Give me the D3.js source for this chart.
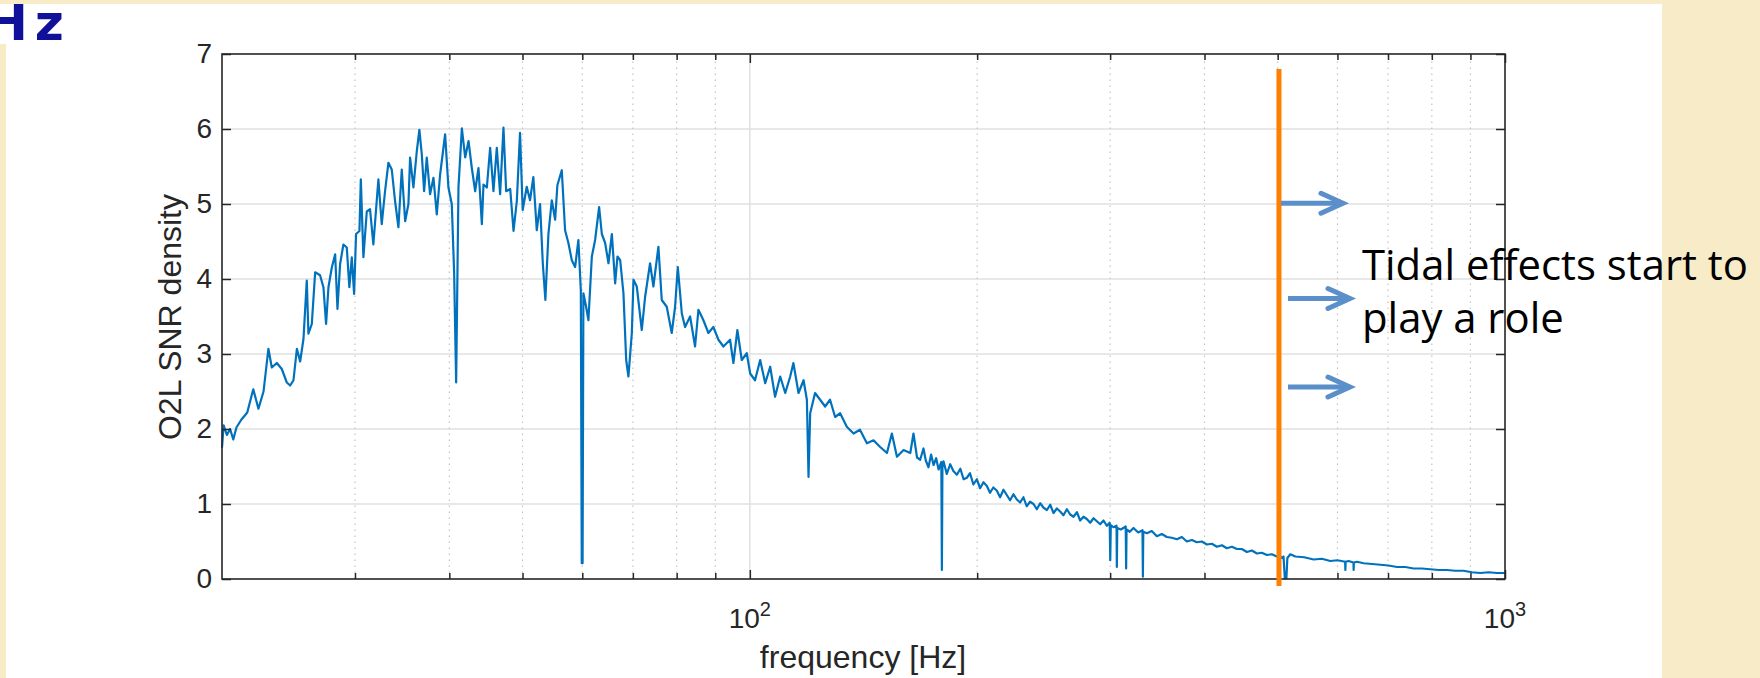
<!DOCTYPE html>
<html>
<head>
<meta charset="utf-8">
<script src="https://d3js.org/d3.v7.min.js"></script>
<style>
  html, body { margin: 0; padding: 0; overflow: hidden; background: #f8ebc8; }
</style>
</head>
<body>
<div id="chart"></div>
<script>
// O2L SNR density vs frequency
var freqHz = [
  20.0, 20.1, 20.3, 20.5, 20.7, 20.9, 21.2, 21.6, 22.0, 22.35,
  22.7, 23.04, 23.28, 23.64, 24.0, 24.37, 24.62, 24.87, 25.13, 25.38,
  25.64, 25.9, 26.03, 26.3, 26.57, 26.97, 27.25, 27.47, 27.67, 27.95,
  28.24, 28.44, 28.67, 28.96, 29.26, 29.49, 29.71, 29.92, 30.1, 30.41,
  30.54, 30.78, 31.1, 31.41, 31.73, 32.22, 32.55, 32.88, 33.22, 33.56,
  33.9, 34.25, 34.6, 34.96, 35.31, 35.49, 35.85, 36.22, 36.51, 36.78,
  37.04, 37.34, 37.72, 38.11, 38.5, 38.89, 39.49, 39.89, 40.3, 40.59,
  40.84, 41.13, 41.56, 41.98, 42.41, 42.84, 43.28, 43.72, 44.17, 44.39,
  44.85, 45.3, 45.76, 46.23, 46.7, 47.18, 47.57, 48.16, 48.65, 49.14,
  49.62,
  50.03, 50.65, 51.16, 51.68, 52.22, 52.75, 53.19, 53.61, 54.11, 54.67,
  55.23, 55.61, 56.36, 56.93, 57.51, 58.11, 58.7, 59.29, 59.73, 59.9,
  60.05, 60.2, 60.7, 61.13, 61.77, 62.39, 63.16, 63.68, 64.33, 64.98,
  65.66, 66.32, 66.79, 67.35, 68.02, 68.59, 69.06, 69.78, 70.13, 70.84,
  71.93, 72.66, 73.77, 74.52, 75.67, 76.45, 77.62, 78.81, 79.62, 80.28,
  81.27, 82.08, 83.35, 84.62, 85.49, 86.8, 88.13, 89.48, 90.87, 92.26,
  94.15, 95.11, 96.27, 97.57, 99.07, 100.1, 101.6, 103.2, 104.8, 106.4,
  108.0, 109.7, 111.4, 113.1, 114.2, 116.0, 117.8, 119.0, 119.6, 120.2,
  122.0, 123.9, 125.8, 127.7, 129.7, 131.7, 134.4, 137.2, 139.9, 142.9,
  145.8, 148.8, 151.9, 154.2, 156.6, 159.8, 163.1, 164.7, 166.5,
  168.1, 169.8, 171.0, 172.4, 173.8, 175.1, 176.5, 177.8, 179.3, 179.6,
  179.9, 180.5, 182.3, 184.2, 186.0, 188.0, 190.0, 191.9, 193.8, 195.7,
  197.7, 199.8, 201.8, 203.9, 206.0, 208.0, 210.1, 212.3, 214.5, 216.7,
  218.9, 221.1, 223.4, 225.7, 228.0, 230.3, 232.6, 235.0, 237.5, 239.9,
  242.4, 244.9, 247.4, 249.9, 252.4, 255.0, 257.6, 260.2, 262.9, 265.6,
  268.3, 271.1, 273.8, 276.6, 279.4, 282.3, 285.2, 288.1, 291.0, 294.0,
  297.0, 299.6, 300.1, 300.6, 303.0, 305.9, 306.2, 306.6, 310.0, 314.6,
  315.0, 315.4, 318.5, 322.1, 326.8, 331.1, 331.5, 331.9, 335.6, 340.6,
  345.9, 351.2, 356.6, 362.0, 367.7, 373.3, 379.0, 384.9, 390.8, 396.8,
  402.9, 409.1, 415.4, 421.8, 428.2, 434.8, 441.6, 448.3, 455.2, 462.2,
  469.3, 476.5, 483.8, 491.2, 498.8, 503, 506.6, 509, 511, 513.5,
  515, 519.7, 527.7, 542, 558.1, 572, 587.1, 600, 614.2, 614.6,
  615.2, 620.8, 630.0, 630.3, 630.8, 636.8, 649.8, 667, 683.8, 701,
  719.5, 738, 757, 776, 796.2, 817, 837.8, 859, 881.3, 904,
  927.3, 951, 975.6, 1000
];

var snrDensity = [
  1.75, 2.05, 1.92, 2.0, 1.86, 2.02, 2.12, 2.22, 2.53, 2.27,
  2.5, 3.07, 2.82, 2.88, 2.8, 2.62, 2.58, 2.65, 3.07, 2.9,
  3.2, 3.98, 3.27, 3.4, 4.09, 4.05, 3.89, 3.4, 3.89, 4.15,
  4.33, 3.6, 4.2, 4.46, 4.42, 3.89, 4.29, 3.8, 4.6, 4.64,
  5.33, 4.29, 4.9, 4.93, 4.46, 5.33, 4.73, 5.17, 5.55, 5.46,
  5.04, 4.69, 5.46, 4.77, 5.0, 5.62, 5.22, 5.7, 5.99, 5.66,
  5.17, 5.62, 5.13, 5.35, 4.86, 5.39, 5.93, 5.22, 5.0, 4.09,
  2.62, 5.22, 6.01, 5.62, 5.84, 5.48, 5.17, 5.48, 4.73, 5.26,
  5.22, 5.75, 5.17, 5.75, 5.13, 6.02, 5.17, 5.2, 4.64, 5.04,
  5.95,
  4.92, 5.23, 5.05, 5.36, 4.65, 5.0, 4.21, 3.72, 4.6, 5.05,
  4.79, 5.25, 5.45, 4.65, 4.48, 4.25, 4.16, 4.52, 3.85, 0.21,
  0.21, 3.81, 3.63, 3.45, 4.3, 4.52, 4.96, 4.6, 4.48, 4.21,
  4.6, 3.94, 4.3, 4.25, 3.81, 2.92, 2.7, 3.28, 3.99, 3.9,
  3.32, 3.76, 4.21, 3.9, 4.43, 3.72, 3.63, 3.28, 3.63, 4.16,
  3.54, 3.36, 3.5, 3.1, 3.59, 3.45, 3.28, 3.36, 3.19, 3.1,
  3.19, 2.88, 3.32, 2.92, 3.01, 2.74, 2.65, 2.92, 2.61, 2.83,
  2.43, 2.7, 2.48, 2.7, 2.88, 2.48, 2.65, 2.39, 1.36, 2.21,
  2.48, 2.39, 2.3, 2.39, 2.16, 2.21, 2.03, 1.94, 1.99, 1.81,
  1.85, 1.76, 1.68, 1.94, 1.63, 1.72, 1.68, 1.94, 1.62,
  1.59, 1.74, 1.58, 1.49, 1.66, 1.52, 1.61, 1.46, 1.56, 0.12,
  1.49, 1.57, 1.40, 1.53, 1.44, 1.39, 1.47, 1.33, 1.35, 1.41,
  1.26, 1.33, 1.21, 1.29, 1.24, 1.15, 1.22, 1.18, 1.09, 1.19,
  1.12, 1.05, 1.13, 1.06, 1.02, 1.09, 0.97, 1.03, 1.00, 0.93,
  1.01, 0.95, 0.92, 0.99, 0.88, 0.94, 0.90, 0.85, 0.93, 0.86,
  0.83, 0.89, 0.78, 0.83, 0.80, 0.75, 0.81, 0.77, 0.73, 0.78,
  0.71, 0.75, 0.25, 0.72, 0.69, 0.71, 0.16, 0.68, 0.66, 0.70,
  0.14, 0.66, 0.63, 0.68, 0.62, 0.65, 0.03, 0.63, 0.61, 0.64,
  0.57, 0.60, 0.56, 0.55, 0.53, 0.56, 0.50, 0.52, 0.49, 0.50,
  0.46, 0.47, 0.43, 0.45, 0.41, 0.43, 0.40, 0.40, 0.36, 0.38,
  0.34, 0.35, 0.32, 0.33, 0.30, 0.31, 0.28, 0.3, 0.01, 0.01,
  0.28, 0.33, 0.3, 0.29, 0.26, 0.27, 0.24, 0.25, 0.23, 0.12,
  0.23, 0.24, 0.22, 0.12, 0.22, 0.23, 0.21, 0.2, 0.19, 0.18,
  0.16, 0.16, 0.14, 0.14, 0.13, 0.12, 0.12, 0.11, 0.11, 0.09,
  0.08, 0.09, 0.08, 0.08
];

var yTicks = [0, 1, 2, 3, 4, 5, 6, 7];
var xMajor = [100, 1000];
var xMajorLabels = [["10", "2"], ["10", "3"]];
var xMinor = [30, 40, 50, 60, 70, 80, 90, 200, 300, 400, 500, 600, 700, 800, 900];
var tidalFreq = 502;
var arrowLevels = [5.01, 3.74, 2.56];
var noteLines = ["Tidal effects start to", "play a role"];

var w = 1760, h = 678;
var svg, x, y;

function main(){

  svg = d3.select("#chart")
    .append("svg")
    .attr("width", w)
    .attr("height", h);

  // slide background and the white picture
  svg.append("rect").attr("width", w).attr("height", h).attr("fill", "#f8ebc8");
  svg.append("rect").attr("x", 6).attr("y", 4).attr("width", 1656).attr("height", h - 4).attr("fill", "#ffffff");
  svg.append("rect").attr("x", 0).attr("y", 4).attr("width", 8).attr("height", 40).attr("fill", "#ffffff");

  // piece of the slide title, cut at the left edge as in the slide
  svg.append("text")
    .attr("x", -14).attr("y", 40)
    .attr("font-family", "DejaVu Sans")
    .attr("font-weight", "bold")
    .attr("font-size", 50)
    .attr("letter-spacing", 7)
    .attr("fill", "#10109a")
    .text("Hz");

  x = d3.scaleLog().domain([20, 1000]).range([222, 1505]);
  y = d3.scaleLinear().domain([0, 7]).range([579, 54]);

  var g = svg.append("g");

  // grid
  g.selectAll(".hgrid")
    .data(yTicks.filter(d => d > 0 && d < 7))
    .enter().append("line")
    .attr("x1", x.range()[0]).attr("x2", x.range()[1])
    .attr("y1", d => y(d)).attr("y2", d => y(d))
    .attr("stroke", "#e0e0e0").attr("stroke-width", 1.5);

  g.selectAll(".vgrid")
    .data(xMajor.filter(d => d < 1000))
    .enter().append("line")
    .attr("x1", d => x(d)).attr("x2", d => x(d))
    .attr("y1", y(0)).attr("y2", y(7))
    .attr("stroke", "#e0e0e0").attr("stroke-width", 1.5);

  g.selectAll(".minorgrid")
    .data(xMinor)
    .enter().append("line")
    .attr("x1", d => x(d)).attr("x2", d => x(d))
    .attr("y1", y(0)).attr("y2", y(7))
    .attr("stroke", "#c4c4c4").attr("stroke-width", 1.2)
    .attr("stroke-dasharray", "1.5,4.5");

  // the curve
  var data = d3.zip(freqHz, snrDensity);
  var line = d3.line()
    .x(d => x(d[0]))
    .y(d => y(d[1]));

  g.append("path")
    .datum(data)
    .attr("d", line)
    .attr("fill", "none")
    .attr("stroke", "#0072bd")
    .attr("stroke-width", 2.2)
    .attr("stroke-linejoin", "round");

  // axes, ticks pointing inward
  var axisColor = "#262626";

  var yAxis = d3.axisLeft(y).tickValues(yTicks).tickSize(-9).tickSizeOuter(0).tickPadding(10).tickFormat(d3.format("d"));
  var yAxisR = d3.axisRight(y).tickValues(yTicks).tickSize(-9).tickSizeOuter(0).tickFormat("");
  var xAxis = d3.axisBottom(x).tickValues(xMajor).tickSize(-9).tickSizeOuter(0).tickFormat("");
  var xAxisMinor = d3.axisBottom(x).tickValues(xMinor).tickSize(-6).tickSizeOuter(0).tickFormat("");
  var xAxisTop = d3.axisTop(x).tickValues(xMajor).tickSize(-9).tickSizeOuter(0).tickFormat("");
  var xAxisTopMinor = d3.axisTop(x).tickValues(xMinor).tickSize(-6).tickSizeOuter(0).tickFormat("");

  var axes = [
    [yAxis, "translate(222,0)"],
    [yAxisR, "translate(1505,0)"],
    [xAxis, "translate(0,579)"],
    [xAxisMinor, "translate(0,579)"],
    [xAxisTop, "translate(0,54)"],
    [xAxisTopMinor, "translate(0,54)"]
  ];
  axes.forEach(function(a){
    var ax = g.append("g").attr("transform", a[1]).call(a[0]);
    ax.select(".domain").remove();
    ax.selectAll("line").attr("stroke", axisColor).attr("stroke-width", 1.5);
    ax.selectAll("text")
      .attr("fill", axisColor)
      .attr("font-family", "Liberation Sans, Arial, sans-serif")
      .attr("font-size", 28);
  });

  g.append("rect")
    .attr("x", 222).attr("y", 54)
    .attr("width", 1505 - 222).attr("height", 579 - 54)
    .attr("fill", "none")
    .attr("stroke", axisColor)
    .attr("stroke-width", 1.6);

  // 10^2, 10^3 labels
  var xl = g.selectAll(".xlab")
    .data(xMajor)
    .enter().append("text")
    .attr("x", d => x(d))
    .attr("y", 628)
    .attr("text-anchor", "middle")
    .attr("fill", axisColor)
    .attr("font-family", "Liberation Sans, Arial, sans-serif")
    .attr("font-size", 28);
  xl.append("tspan").text((d, i) => xMajorLabels[i][0]);
  xl.append("tspan").attr("dy", -12).attr("font-size", 20).text((d, i) => xMajorLabels[i][1]);

  // axis titles
  svg.append("text")
    .attr("x", 863).attr("y", 668)
    .attr("text-anchor", "middle")
    .attr("fill", axisColor)
    .attr("font-family", "Liberation Sans, Arial, sans-serif")
    .attr("font-size", 32)
    .text("frequency [Hz]");

  svg.append("text")
    .attr("transform", "translate(181,317) rotate(-90)")
    .attr("text-anchor", "middle")
    .attr("fill", axisColor)
    .attr("font-family", "Liberation Sans, Arial, sans-serif")
    .attr("font-size", 32)
    .text("O2L SNR density");

  // tidal cutoff line
  var tx = x(tidalFreq);
  svg.append("line")
    .attr("x1", tx).attr("x2", tx)
    .attr("y1", y(7) + 15).attr("y2", y(0) + 7)
    .attr("stroke", "#ff7f00")
    .attr("stroke-width", 5);

  // arrows
  var arrowColor = "#5b8fca";
  arrowLevels.forEach(function(v, i){
    var ay = y(v);
    var x0 = tx + (i == 0 ? 2 : 9);
    var x1 = x0 + 62;
    svg.append("line")
      .attr("x1", x0).attr("x2", x1 - 2)
      .attr("y1", ay).attr("y2", ay)
      .attr("stroke", arrowColor).attr("stroke-width", 5);
    svg.append("path")
      .attr("d", "M" + (x1 - 22) + "," + (ay - 10) + " L" + x1 + "," + ay + " L" + (x1 - 22) + "," + (ay + 10))
      .attr("fill", "none")
      .attr("stroke", arrowColor).attr("stroke-width", 5)
      .attr("stroke-linecap", "round");
  });

  // note text
  var note = svg.append("text")
    .attr("font-family", "Open Sans, sans-serif")
    .attr("font-size", 42)
    .attr("fill", "#000000");
  note.selectAll("tspan")
    .data(noteLines)
    .enter().append("tspan")
    .attr("x", 1362)
    .attr("y", (d, i) => 280 + i * 53)
    .text(d => d);
  var len = note.select("tspan").node().getComputedTextLength();
  note.attr("font-size", 42 * 386 / len);
}

main();
</script>
</body>
</html>
